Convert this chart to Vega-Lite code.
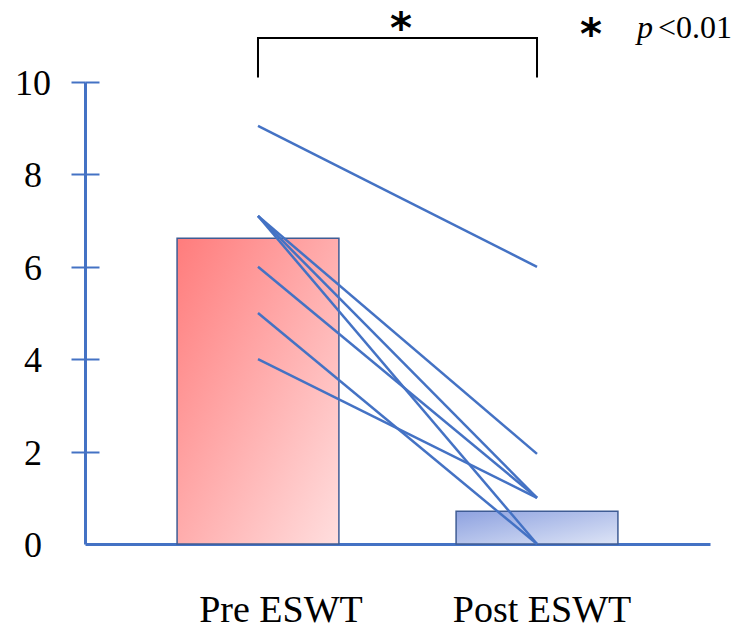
{
  "$schema": "https://vega.github.io/schema/vega-lite/v6.json",
  "width": 625,
  "height": 462,
  "autosize": "none",
  "padding": {"left": 85, "top": 82, "right": 34, "bottom": 84},
  "background": "white",
  "config": {"view": {"stroke": null}},
  "datasets": {
    "bars": [
      {"phase": "Pre ESWT", "mean": 6.62},
      {"phase": "Post ESWT", "mean": 0.71}
    ],
    "yticks": [{"v": 0}, {"v": 2}, {"v": 4}, {"v": 6}, {"v": 8}, {"v": 10}],
    "pairs": [
      {"id": 1, "phase": "Pre ESWT", "score": 9.05},
      {"id": 1, "phase": "Post ESWT", "score": 6.0},
      {"id": 2, "phase": "Pre ESWT", "score": 7.1},
      {"id": 2, "phase": "Post ESWT", "score": 1.95},
      {"id": 3, "phase": "Pre ESWT", "score": 7.1},
      {"id": 3, "phase": "Post ESWT", "score": 1.0},
      {"id": 4, "phase": "Pre ESWT", "score": 7.1},
      {"id": 4, "phase": "Post ESWT", "score": 0.0},
      {"id": 5, "phase": "Pre ESWT", "score": 6.0},
      {"id": 5, "phase": "Post ESWT", "score": 1.0},
      {"id": 6, "phase": "Pre ESWT", "score": 5.0},
      {"id": 6, "phase": "Post ESWT", "score": 0.0},
      {"id": 7, "phase": "Pre ESWT", "score": 4.0},
      {"id": 7, "phase": "Post ESWT", "score": 1.0}
    ],
    "bracket": [
      {"seq": 1, "phase": "Pre ESWT", "y": 10.1},
      {"seq": 2, "phase": "Pre ESWT", "y": 10.95},
      {"seq": 3, "phase": "Post ESWT", "y": 10.95},
      {"seq": 4, "phase": "Post ESWT", "y": 10.1}
    ],
    "notes": [
      {"key": "star", "phase": "Pre ESWT", "y": 11.3, "label": "*"},
      {"key": "star2", "phase": "Post ESWT", "y": 11.17, "label": "*"},
      {"key": "p", "phase": "Post ESWT", "y": 11.17, "label": "p"},
      {"key": "thr", "phase": "Post ESWT", "y": 11.17, "label": "<0.01"}
    ]
  },
  "encoding": {
    "x": {
      "field": "phase",
      "type": "nominal",
      "sort": ["Pre ESWT", "Post ESWT"],
      "scale": {"domain": ["Pre ESWT", "Post ESWT"], "paddingInner": 0.42, "paddingOuter": 0.33, "align": 0.5},
      "axis": {
        "title": null,
        "domainColor": "#4472C4",
        "domainWidth": 3,
        "ticks": false,
        "labels": false
      }
    }
  },
  "layer": [
    {
      "data": {"name": "bars"},
      "transform": [{"filter": "datum.phase == 'Pre ESWT'"}],
      "mark": {
        "type": "bar",
        "stroke": "#3F5C94",
        "strokeWidth": 1.5,
        "color": {"gradient": "linear", "x1": 0, "y1": 0, "x2": 1, "y2": 1,
          "stops": [{"offset": 0, "color": "#FF7C7C"}, {"offset": 1, "color": "#FFDEDE"}]}
      },
      "encoding": {
        "y": {
          "field": "mean",
          "type": "quantitative",
          "scale": {"domain": [0, 10], "nice": false, "zero": true},
          "axis": {
            "title": null,
            "values": [2, 4, 6, 8, 10],
            "grid": false,
            "domainColor": "#4472C4",
            "domainWidth": 3,
            "tickColor": "#4472C4",
            "tickWidth": 2,
            "tickSize": 14,
            "labels": false
          }
        }
      }
    },
    {
      "data": {"name": "bars"},
      "transform": [{"filter": "datum.phase == 'Post ESWT'"}],
      "mark": {
        "type": "bar",
        "stroke": "#3F5C94",
        "strokeWidth": 1.5,
        "color": {"gradient": "linear", "x1": 0, "y1": 0, "x2": 1, "y2": 1,
          "stops": [{"offset": 0, "color": "#8EA2E0"}, {"offset": 1, "color": "#DDE4F6"}]}
      },
      "encoding": {
        "y": {"field": "mean", "type": "quantitative", "scale": {"domain": [0, 10], "nice": false}, "axis": null}
      }
    },
    {
      "data": {"name": "pairs"},
      "mark": {"type": "line", "color": "#4472C4", "strokeWidth": 2.5},
      "encoding": {
        "y": {
          "field": "score",
          "type": "quantitative",
          "scale": {"domain": [0, 10], "nice": false},
          "axis": {
            "orient": "left",
            "title": null,
            "values": [2, 4, 6, 8, 10],
            "grid": false,
            "domain": false,
            "labels": false,
            "tickColor": "#4472C4",
            "tickWidth": 2,
            "tickSize": -14
          }
        },
        "detail": {"field": "id", "type": "nominal"}
      }
    },
    {
      "data": {"name": "bracket"},
      "mark": {"type": "line", "color": "black", "strokeWidth": 2},
      "encoding": {
        "y": {"field": "y", "type": "quantitative", "scale": {"domain": [0, 10], "nice": false}, "axis": null},
        "order": {"field": "seq", "type": "quantitative"}
      }
    },
    {
      "data": {"name": "bars"},
      "transform": [{"filter": "datum.phase == 'Pre ESWT'"}],
      "mark": {"type": "text", "font": "Liberation Serif", "fontSize": 38, "baseline": "alphabetic", "align": "center", "color": "black", "dx": 23},
      "encoding": {
        "y": {"datum": -1.69, "type": "quantitative", "scale": {"domain": [0, 10], "nice": false}, "axis": null},
        "text": {"field": "phase"}
      }
    },
    {
      "data": {"name": "bars"},
      "transform": [{"filter": "datum.phase == 'Post ESWT'"}],
      "mark": {"type": "text", "font": "Liberation Serif", "fontSize": 38, "baseline": "alphabetic", "align": "center", "color": "black", "dx": 5},
      "encoding": {
        "y": {"datum": -1.69, "type": "quantitative", "scale": {"domain": [0, 10], "nice": false}, "axis": null},
        "text": {"field": "phase"}
      }
    },
    {
      "data": {"name": "yticks"},
      "mark": {"type": "text", "font": "Liberation Serif", "fontSize": 36, "baseline": "middle", "align": "center", "color": "black", "dx": -225, "dy": 2},
      "encoding": {
        "x": {"datum": "Pre ESWT"},
        "y": {"field": "v", "type": "quantitative", "scale": {"domain": [0, 10], "nice": false}, "axis": null},
        "text": {"field": "v"}
      }
    },
    {
      "data": {"name": "notes"},
      "transform": [{"filter": "datum.key == 'star'"}],
      "mark": {"type": "text", "font": "DejaVu Sans", "fontWeight": "bold", "fontSize": 42, "baseline": "middle", "align": "center", "dx": 143, "dy": 8},
      "encoding": {
        "y": {"field": "y", "type": "quantitative", "scale": {"domain": [0, 10], "nice": false}, "axis": null},
        "text": {"field": "label"}
      }
    },
    {
      "data": {"name": "notes"},
      "transform": [{"filter": "datum.key == 'star2'"}],
      "mark": {"type": "text", "font": "DejaVu Sans", "fontWeight": "bold", "fontSize": 42, "baseline": "middle", "align": "center", "dx": 54, "dy": 8},
      "encoding": {
        "y": {"field": "y", "type": "quantitative", "scale": {"domain": [0, 10], "nice": false}, "axis": null},
        "text": {"field": "label"}
      }
    },
    {
      "data": {"name": "notes"},
      "transform": [{"filter": "datum.key == 'p'"}],
      "mark": {"type": "text", "font": "Liberation Serif", "fontStyle": "italic", "fontSize": 32, "baseline": "middle", "align": "left", "dx": 100},
      "encoding": {
        "y": {"field": "y", "type": "quantitative", "scale": {"domain": [0, 10], "nice": false}, "axis": null},
        "text": {"field": "label"}
      }
    },
    {
      "data": {"name": "notes"},
      "transform": [{"filter": "datum.key == 'thr'"}],
      "mark": {"type": "text", "font": "Liberation Serif", "fontSize": 32, "baseline": "middle", "align": "left", "dx": 121},
      "encoding": {
        "y": {"field": "y", "type": "quantitative", "scale": {"domain": [0, 10], "nice": false}, "axis": null},
        "text": {"field": "label"}
      }
    }
  ],
  "resolve": {"axis": {"y": "independent"}}
}
